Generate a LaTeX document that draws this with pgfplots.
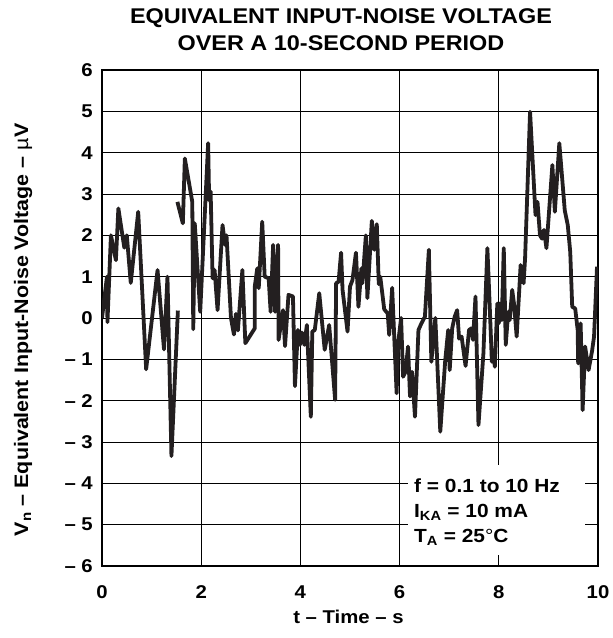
\documentclass[border=0pt]{standalone}
\usepackage{fontspec}
\setmainfont{Liberation Sans}[FakeStretch=1.1]
\usepackage{pgfplots}
\pgfplotsset{compat=1.18}

\definecolor{curve}{HTML}{231F20}

\begin{document}
\begin{tikzpicture}
  \begin{axis}[
      name=ax,
      scale only axis,
      width=496pt, height=496pt,
      xmin=0, xmax=10,
      ymin=-6, ymax=6,
      xtick={0,2,4,6,8,10},
      xticklabels={0,2,4,6,8,10},
      ytick={-6,-5,...,6},
      yticklabels={– 6,– 5,– 4,– 3,– 2,– 1,0,1,2,3,4,5,6},
      major tick length=0pt,
      grid=major,
      major grid style={black, line width=0.7pt},
      axis line style={black, line width=1.4pt},
      tick label style={font=\bfseries\fontsize{18.5}{18.5}\selectfont, inner sep=0pt},
      xticklabel style={anchor=base, yshift=-32pt},
      yticklabel style={anchor=east, xshift=-9pt},
      label style={font=\bfseries\fontsize{18.5}{18.5}\selectfont},
      xlabel={t – Time – s},
      xlabel style={at={(axis description cs:0.497,-0.115)}, anchor=base},
      ylabel={V\textsubscript{n} – Equivalent Input-Noise Voltage – {\mdseries µ}V},
      ylabel style={at={(axis description cs:-0.159,0.476)}, anchor=center,
                    font=\bfseries\fontsize{19.5}{19.5}\selectfont},
      title={EQUIVALENT INPUT-NOISE VOLTAGE\\OVER A 10-SECOND PERIOD},
      title style={font=\bfseries\fontsize{21.3}{27}\selectfont, align=center,
                   at={(axis description cs:0.5,1)}, anchor=south, inner sep=0pt,
                   xshift=-9pt, yshift=13pt},
    ]

    % white patch behind the test conditions
    \fill[white] (axis cs:6.17,-3.56) rectangle (axis cs:9.74,-5.74);
    \node[anchor=west, align=left, inner sep=0pt,
          font=\bfseries\fontsize{19}{25}\selectfont]
      at (axis cs:6.29,-4.70)
      {f = 0.1 to 10 Hz\\I\textsubscript{KA} = 10 mA\\T\textsubscript{A} = 25{\mdseries °}C};

    \addplot[curve, line width=3.8pt, line join=round] coordinates {
      (0,0) (0.1,1.0) (0.11,-0.1) (0.18,2.0) (0.28,1.4) (0.33,2.65)
      (0.45,1.7) (0.5,2.0) (0.58,0.85) (0.73,2.57) (0.89,-1.24)
      (1.12,1.16) (1.25,-0.76) (1.32,1.0) (1.40,-3.34) (1.53,0.18)
    };

    \addplot[curve, line width=3.8pt, line join=round] coordinates {
      (1.52,2.81) (1.63,2.29) (1.67,3.86) (1.82,2.81) (1.84,-0.27)
      (1.87,2.29) (1.98,0.15) (2.14,4.23) (2.16,2.85) (2.19,3.06)
      (2.23,0.96) (2.27,1.16) (2.33,0.19) (2.43,2.25) (2.48,1.77)
      (2.51,2.0) (2.60,0.0) (2.66,-0.4) (2.70,0.1) (2.74,-0.3)
      (2.83,1.16) (2.89,-0.61) (3.08,-0.25) (3.08,0.76) (3.13,1.2)
      (3.16,0.72) (3.23,2.33) (3.28,1.0) (3.36,0.96) (3.40,0.15)
      (3.45,1.77) (3.49,0.15) (3.55,1.77) (3.56,-0.53) (3.65,0.19)
      (3.69,-0.68) (3.76,0.56) (3.85,0.52) (3.89,-1.65) (3.95,-0.29)
      (3.99,-0.65) (4.03,-0.35) (4.08,-0.65) (4.13,-0.17) (4.21,-2.39)
      (4.24,-0.33) (4.29,-0.29) (4.38,0.6) (4.49,-0.77) (4.58,-0.17)
      (4.70,-1.98) (4.72,0.84) (4.77,0.88) (4.82,1.58) (4.85,0.68)
      (4.95,-0.33) (5.0,0.76) (5.05,0.92) (5.12,1.58) (5.17,0.27)
      (5.23,1.2) (5.25,0.84) (5.32,2.0) (5.35,0.48) (5.44,2.35)
      (5.49,1.65) (5.54,2.27) (5.58,0.82) (5.61,1.0) (5.69,0.21)
      (5.76,0.11) (5.79,-0.41) (5.85,0.73) (5.94,-1.82) (5.97,-0.61)
      (6.03,0.0) (6.07,-1.42) (6.12,-1.3) (6.17,-0.69) (6.21,-1.9)
      (6.25,-1.3) (6.31,-2.39) (6.38,-0.29) (6.44,-0.13) (6.51,0.03)
      (6.59,1.65) (6.64,-1.06) (6.72,0.0) (6.82,-2.75) (6.92,-1.02)
      (6.98,-0.29) (7.01,-1.26) (7.06,-0.25) (7.11,0.03) (7.16,0.19)
      (7.20,-0.5) (7.25,-0.45) (7.33,-1.16) (7.40,-0.29) (7.45,-0.25)
      (7.48,-0.53) (7.53,0.52) (7.59,-2.59) (7.69,-0.85) (7.77,1.69)
      (7.82,0.19) (7.86,-1.06) (7.89,-0.85) (7.92,-1.18) (7.97,0.35)
      (8.00,-0.13) (8.02,0.35) (8.06,-0.05) (8.10,1.69) (8.14,-0.65)
      (8.19,0.15) (8.22,-0.05) (8.27,0.68) (8.31,0.31) (8.36,-0.45)
      (8.44,1.28) (8.50,0.84) (8.53,1.45) (8.63,4.99) (8.74,2.49)
      (8.78,2.81) (8.83,2.0) (8.87,1.92) (8.91,2.13) (8.96,1.69)
      (9.08,3.70) (9.13,2.57) (9.22,4.23) (9.33,2.6) (9.39,2.25)
      (9.44,1.6) (9.48,0.27) (9.54,0.23) (9.59,-0.29) (9.60,-1.1)
      (9.65,-0.13) (9.69,-2.23) (9.74,-0.69) (9.81,-1.26) (9.88,-0.8)
      (9.92,-0.45) (9.98,1.24)
    };
  \end{axis}
  \pgfresetboundingbox
  \path ([shift={(-102pt,-72pt)}]ax.south west) rectangle ([shift={(14pt,70pt)}]ax.north east);
\end{tikzpicture}
\end{document}
